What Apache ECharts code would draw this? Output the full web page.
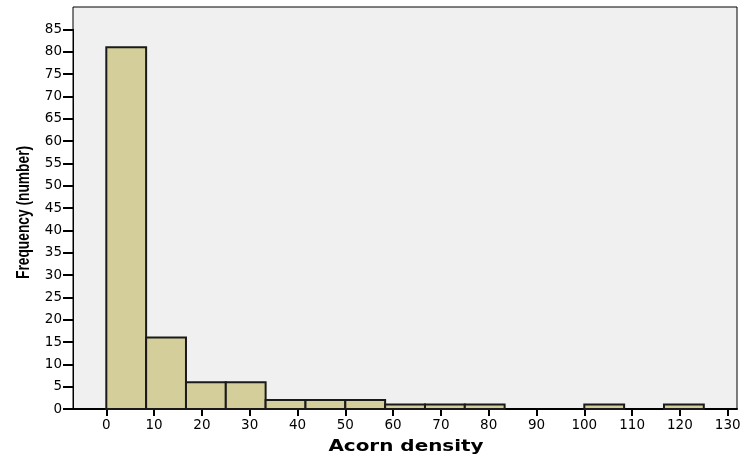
<!DOCTYPE html>
<html><head><meta charset="utf-8">
<script src="https://cdn.jsdelivr.net/npm/echarts@6/dist/echarts.min.js"></script>
<style>html,body{margin:0;padding:0;background:#fff}#c{width:742px;height:457px}</style>
</head><body><div id="c"></div>
<script>
// Histogram of acorn density (15 bins of width 125/15)
const binStarts = [0, 8.33, 16.67, 25, 33.33, 41.67, 50, 58.33, 66.67, 75, 83.33, 91.67, 100, 108.33, 116.67];
const binEnds   = [8.33, 16.67, 25, 33.33, 41.67, 50, 58.33, 66.67, 75, 83.33, 91.67, 100, 108.33, 116.67, 125];
const counts    = [81, 16, 6, 6, 2, 2, 2, 1, 1, 1, 0, 0, 1, 0, 1];
const xTicks = [0,10,20,30,40,50,60,70,80,90,100,110,120,130];
const yTicks = [0,5,10,15,20,25,30,35,40,45,50,55,60,65,70,75,80,85];
const xTitle = 'Acorn density';
const yTitle = 'Frequency (number)';

const data = counts.map((c,i)=>[binStarts[i], binEnds[i], c]).filter(d=>d[2]>0);
const chart = echarts.init(document.getElementById('c'), null, {renderer:'canvas'});
const lblFont = {color:'#000', fontFamily:'DejaVu Sans, sans-serif', fontSize:13.5};
const gTop = 7, gBottom = 48, plotH = 457 - gTop - gBottom; // 402 px for 0..90
const yTop85 = 457 - gBottom - plotH * 85 / 90;
chart.setOption({
  animation:false,
  grid:[
    {left:73, right:5, top:gTop, bottom:gBottom, show:true, backgroundColor:'#F0F0F0', borderColor:'#000', borderWidth:1, outerBoundsMode:'none', containLabel:false},
    {left:73, right:5, top:yTop85, bottom:gBottom, outerBoundsMode:'none', containLabel:false},
    {left:106.3, right:14.3, top:yTop85, bottom:gBottom, outerBoundsMode:'none', containLabel:false}
  ],
  xAxis:[
    {gridIndex:0, type:'value', min:0, max:1, axisLine:{show:true, onZero:false, lineStyle:{color:'#000', width:2}}, axisTick:{show:false}, axisLabel:{show:false}, splitLine:{show:false}},
    {gridIndex:1, type:'value', min:0, max:1, show:false},
    {gridIndex:2, type:'value', min:0, max:130, interval:10, axisLine:{show:false}, axisTick:{show:true, length:7, lineStyle:{color:'#000', width:2}},
     axisLabel:Object.assign({margin:9, formatter:v=>xTicks.includes(v)?String(v):''}, lblFont), splitLine:{show:false}}
  ],
  yAxis:[
    {gridIndex:0, type:'value', min:0, max:1, show:false},
    {gridIndex:1, type:'value', min:0, max:85, interval:5, axisLine:{show:true, lineStyle:{color:'#000', width:1}}, axisTick:{show:true, length:10, lineStyle:{color:'#000', width:2}},
     axisLabel:Object.assign({margin:11, formatter:v=>yTicks.includes(v)?String(v):''}, lblFont), splitLine:{show:false}},
    {gridIndex:2, type:'value', min:0, max:85, show:false}
  ],
  graphic:[
    {type:'text', x:15, y:279, rotation:Math.PI/2, scaleX:0.765, silent:true,
     style:{text:yTitle, fill:'#000', font:'bold 18px "Liberation Sans Narrow", "Liberation Sans", Arial, sans-serif', textAlign:'left', textVerticalAlign:'top'}},
    {type:'text', x:406, y:447, scaleX:1.33, silent:true,
     style:{text:xTitle, fill:'#000', font:'bold 15px "DejaVu Sans", sans-serif', textAlign:'center', textVerticalAlign:'middle'}}
  ],
  series:[{
    type:'custom', xAxisIndex:2, yAxisIndex:2, data:data, clip:false,
    renderItem:(params, api)=>{
      const p0 = api.coord([api.value(0), api.value(2)]);
      const p1 = api.coord([api.value(1), 0]);
      return {type:'rect', shape:{x:p0[0], y:p0[1], width:p1[0]-p0[0], height:p1[1]-p0[1]},
        style:{fill:'#D3CE9A', stroke:'#1a1a1a', lineWidth:2}};
    }
  }]
});
</script></body></html>
